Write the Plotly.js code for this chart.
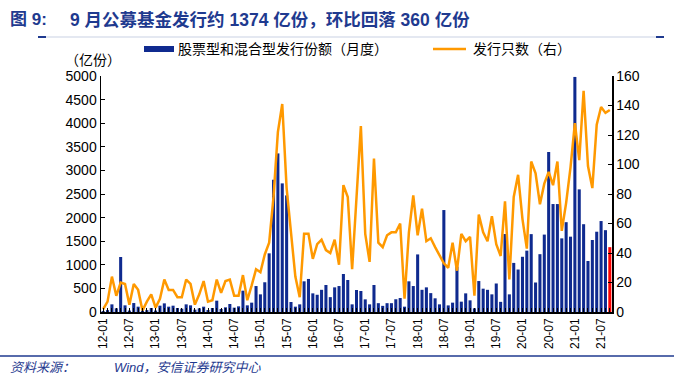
<!DOCTYPE html>
<html>
<head>
<meta charset="utf-8">
<script src="https://cdn.plot.ly/plotly-3.0.1.min.js"></script>
<style>html,body{margin:0;padding:0;background:#fff;}#chart{width:674px;height:378px;}</style>
</head>
<body>
<div id="chart"></div>
<script>
// ---- data ----
const months = [
  "12-01","12-02","12-03","12-04","12-05","12-06","12-07","12-08","12-09","12-10","12-11","12-12",
  "13-01","13-02","13-03","13-04","13-05","13-06","13-07","13-08","13-09","13-10","13-11","13-12",
  "14-01","14-02","14-03","14-04","14-05","14-06","14-07","14-08","14-09","14-10","14-11","14-12",
  "15-01","15-02","15-03","15-04","15-05","15-06","15-07","15-08","15-09","15-10","15-11","15-12",
  "16-01","16-02","16-03","16-04","16-05","16-06","16-07","16-08","16-09","16-10","16-11","16-12",
  "17-01","17-02","17-03","17-04","17-05","17-06","17-07","17-08","17-09","17-10","17-11","17-12",
  "18-01","18-02","18-03","18-04","18-05","18-06","18-07","18-08","18-09","18-10","18-11","18-12",
  "19-01","19-02","19-03","19-04","19-05","19-06","19-07","19-08","19-09","19-10","19-11","19-12",
  "20-01","20-02","20-03","20-04","20-05","20-06","20-07","20-08","20-09","20-10","20-11","20-12",
  "21-01","21-02","21-03","21-04","21-05","21-06","21-07","21-08","21-09"
];
const tickLabels = ["12-01","12-07","13-01","13-07","14-01","14-07","15-01","15-07","16-01","16-07",
  "17-01","17-07","18-01","18-07","19-01","19-07","20-01","20-07","21-01","21-07"];
// 股票型和混合型发行份额（月度），亿份
const shares = [
  20, 40, 162, 78, 1165, 141, 30, 190, 113, 30, 40, 85,
  30, 134, 183, 113, 134, 85, 70, 162, 141, 50, 78, 113,
  42, 85, 240, 64, 99, 169, 92, 120, 452, 141, 198, 550,
  374, 630, 1243, 2800, 3360, 2725, 2470, 212, 113, 162, 650, 700,
  395, 365, 470, 572, 315, 522, 550, 805, 678, 162, 466, 445,
  268, 162, 572, 187, 130, 187, 187, 270, 296, 113, 650, 550,
  1220, 470, 522, 400, 290, 162, 2160, 140, 198, 960, 219, 395,
  247, 78, 656, 494, 470, 374, 604, 215, 1652, 374, 1040, 900,
  1170, 1300, 1650, 625, 1225, 1640, 3390, 2287, 2287, 1560, 1903, 1596,
  4980, 2598, 1860, 1080, 1525, 1701, 1927, 1734, 1374
];
// 发行只数（右）
const counts = [
  2, 7, 24, 11, 20, 19, 5, 19, 15, 1, 7, 12,
  3, 9, 22, 15, 15, 10, 10, 22, 19, 5, 12, 21,
  7, 8, 22, 13, 21, 22, 11, 11, 25, 8, 18, 29,
  27, 39, 47, 78, 122, 141, 84, 52, 24, 10, 53, 53,
  36, 46, 49, 42, 40, 49, 32, 86, 78, 29, 76, 126,
  53, 34, 104, 47, 44, 52, 54, 54, 60, 9, 54, 79,
  52, 70, 48, 50, 44, 38, 33, 30, 47, 28, 53, 48,
  51, 11, 66, 54, 48, 65, 46, 38, 75, 22, 78, 93,
  63, 43, 102, 94, 73, 87, 95, 86, 102, 55, 74, 98,
  128, 103, 150, 99, 84, 127, 139, 135, 137
];
const barName = "股票型和混合型发行份额（月度）";
const lineName = "发行只数（右）";
const titleLabel = "图 9:";
const titleText = "9 月公募基金发行约 1374 亿份，环比回落 360 亿份";
const sourceLabel = "资料来源：";
const sourceText = "Wind，安信证券研究中心";
const leftUnit = "（亿份）";

// ---- style ----
const BLUE = "#0F2A8F";
const RED = "#FF0000";
const ORANGE = "#FF9900";
const NAVY = "#1F3A8F";
const FONT = "Liberation Sans, Arial, Noto Sans CJK SC, sans-serif";
const W = 674, H = 378;
const M = {l: 101, r: 62, t: 76, b: 66};
const PW = W - M.l - M.r, PH = H - M.t - M.b;
const px = x => (x - M.l) / PW;
const py = y => (H - M.b - y) / PH;

const barColors = shares.map((v, i) => i === shares.length - 1 ? RED : BLUE);
const tickText = months.map(m => tickLabels.includes(m) ? m : "");

const traces = [
  {type: "bar", x: months, y: shares, name: barName, marker: {color: barColors}, showlegend: false, yaxis: "y"},
  {type: "scatter", mode: "lines", x: months, y: counts, name: lineName, line: {color: ORANGE, width: 2.5}, showlegend: false, yaxis: "y2"}
];

const ann = (x, y, text, size, color, extra) => Object.assign({
  xref: "paper", yref: "paper", x: px(x), y: py(y), xanchor: "left", yanchor: "middle", showarrow: false,
  text: text, font: {size: size, color: color, family: FONT}
}, extra || {});

const layout = {
  width: W, height: H, margin: M,
  paper_bgcolor: "#fff", plot_bgcolor: "#fff",
  font: {family: FONT, color: "#000", size: 14},
  bargap: 0.3,
  xaxis: {
    type: "category", tickmode: "array", tickvals: months, ticktext: tickText,
    tickangle: -90, tickfont: {size: 12}, ticks: "inside", ticklen: 4, tickcolor: "#000",
    showline: true, linecolor: "#000", linewidth: 1.5, showgrid: false, zeroline: false,
    range: [-0.5, months.length - 0.5]
  },
  yaxis: {
    range: [0, 5000], dtick: 500, tickformat: "d", ticks: "inside", ticklen: 4, tickcolor: "#000",
    showline: true, linecolor: "#000", linewidth: 1.5, showgrid: false, zeroline: false,
    tickfont: {size: 14}
  },
  yaxis2: {
    overlaying: "y", side: "right", range: [0, 160], dtick: 20, ticks: "inside", ticklen: 4, tickcolor: "#000",
    showline: true, linecolor: "#000", linewidth: 1.5, showgrid: false, zeroline: false,
    tickfont: {size: 14}
  },
  annotations: [
    ann(8, 20, "<b>" + titleLabel + "</b>", 17, NAVY),
    ann(68, 20, "<b>" + titleText + "</b>", 17.5, NAVY),
    ann(8, 367, "<i>" + sourceLabel + "</i>", 13, NAVY),
    ann(112, 367, "<i>" + sourceText + "</i>", 13, NAVY),
    ann(63, 60, leftUnit, 14, "#000"),
    ann(176, 49, barName, 14, "#000"),
    ann(471, 49, lineName, 14, "#000")
  ],
  shapes: [
    {type: "rect", xref: "paper", yref: "paper", x0: px(144), x1: px(174), y0: py(46), y1: py(52), fillcolor: BLUE, line: {width: 0}},
    {type: "line", xref: "paper", yref: "paper", x0: px(433), x1: px(466), y0: py(49), y1: py(49), line: {color: ORANGE, width: 2.5}},
    {type: "line", xref: "paper", yref: "paper", x0: px(40), x1: px(664), y0: py(37), y1: py(37), line: {color: "#C9D1E3", width: 1}},
    {type: "line", xref: "paper", yref: "paper", x0: px(38), x1: px(46), y0: py(37), y1: py(37), line: {color: NAVY, width: 2}},
    {type: "line", xref: "paper", yref: "paper", x0: px(656), x1: px(664), y0: py(37), y1: py(37), line: {color: NAVY, width: 2}},
    {type: "line", xref: "paper", yref: "paper", x0: px(0), x1: px(674), y0: py(356), y1: py(356), line: {color: NAVY, width: 1.5}}
  ]
};

Plotly.newPlot("chart", traces, layout, {staticPlot: true, displayModeBar: false});
</script>
</body>
</html>
